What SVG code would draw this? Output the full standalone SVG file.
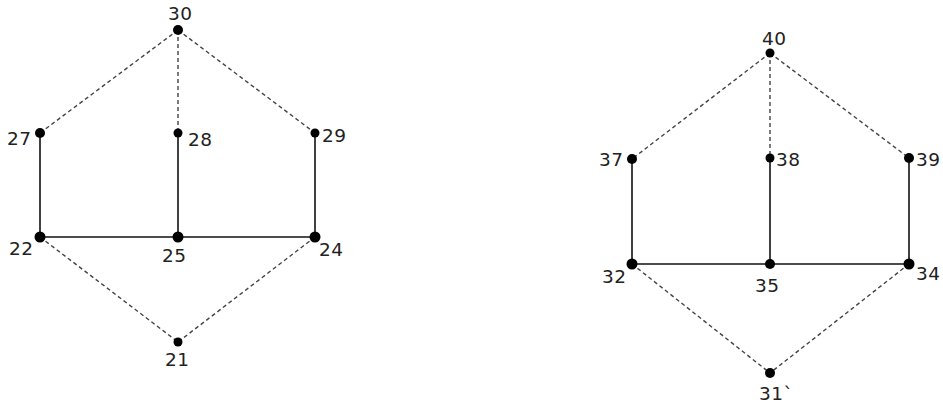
<svg xmlns="http://www.w3.org/2000/svg" width="943" height="407" viewBox="0 0 943 407">
<style>
.s{stroke:#111;stroke-width:1.6;fill:none}
.d{stroke:#444;stroke-width:1.4;stroke-dasharray:4 3;fill:none}
.n{fill:#000}
text{font-family:"DejaVu Sans","Open Sans",sans-serif;font-size:18.5px;letter-spacing:0.5px;fill:#222}
</style>
<rect width="943" height="407" fill="#fff"/>
<g id="connectors">
<line class="d" x1="178" y1="30" x2="40" y2="133"/>
<line class="d" x1="178" y1="30" x2="178" y2="133"/>
<line class="d" x1="178" y1="30" x2="315" y2="133"/>
<line class="s" x1="40" y1="133" x2="40" y2="237"/>
<line class="s" x1="178" y1="133" x2="178" y2="237"/>
<line class="s" x1="315" y1="133" x2="315" y2="237"/>
<line class="s" x1="40" y1="237" x2="315" y2="237"/>
<line class="d" x1="40" y1="237" x2="178" y2="342"/>
<line class="d" x1="315" y1="237" x2="178" y2="342"/>
<line class="d" x1="770" y1="53" x2="632" y2="159"/>
<line class="d" x1="770" y1="53" x2="770" y2="158"/>
<line class="d" x1="770" y1="53" x2="909" y2="158"/>
<line class="s" x1="632" y1="159" x2="632" y2="264"/>
<line class="s" x1="770" y1="158" x2="770" y2="264"/>
<line class="s" x1="909" y1="158" x2="909" y2="264"/>
<line class="s" x1="632" y1="264" x2="909" y2="264"/>
<line class="d" x1="632" y1="264" x2="770" y2="373"/>
<line class="d" x1="909" y1="264" x2="770" y2="373"/>
</g>
<g id="n30"><circle class="n" cx="178" cy="30" r="5"/><text x="168" y="20">30</text></g>
<g id="n27"><circle class="n" cx="40" cy="133" r="5"/><text x="7" y="145">27</text></g>
<g id="n28"><circle class="n" cx="178" cy="133" r="4.5"/><text x="188" y="146">28</text></g>
<g id="n29"><circle class="n" cx="315" cy="133" r="4.5"/><text x="322" y="142">29</text></g>
<g id="n22"><circle class="n" cx="40" cy="237" r="5.5"/><text x="9" y="255">22</text></g>
<g id="n25"><circle class="n" cx="178" cy="237" r="5.5"/><text x="162" y="262">25</text></g>
<g id="n24"><circle class="n" cx="315" cy="237" r="5.5"/><text x="319" y="256">24</text></g>
<g id="n21"><circle class="n" cx="178" cy="342" r="4.5"/><text x="165" y="366">21</text></g>
<g id="n40"><circle class="n" cx="770" cy="53" r="4.5"/><text x="762" y="45">40</text></g>
<g id="n37"><circle class="n" cx="632" cy="159" r="5"/><text x="599" y="166">37</text></g>
<g id="n38"><circle class="n" cx="770" cy="158" r="4.5"/><text x="776" y="166">38</text></g>
<g id="n39"><circle class="n" cx="909" cy="158" r="5"/><text x="916" y="166">39</text></g>
<g id="n32"><circle class="n" cx="632" cy="264" r="5.5"/><text x="602" y="283">32</text></g>
<g id="n35"><circle class="n" cx="770" cy="264" r="5"/><text x="755" y="292">35</text></g>
<g id="n34"><circle class="n" cx="909" cy="264" r="5.5"/><text x="916" y="280">34</text></g>
<g id="n31"><circle class="n" cx="770" cy="373" r="5"/><text x="759" y="400">31`</text></g>
</svg>
